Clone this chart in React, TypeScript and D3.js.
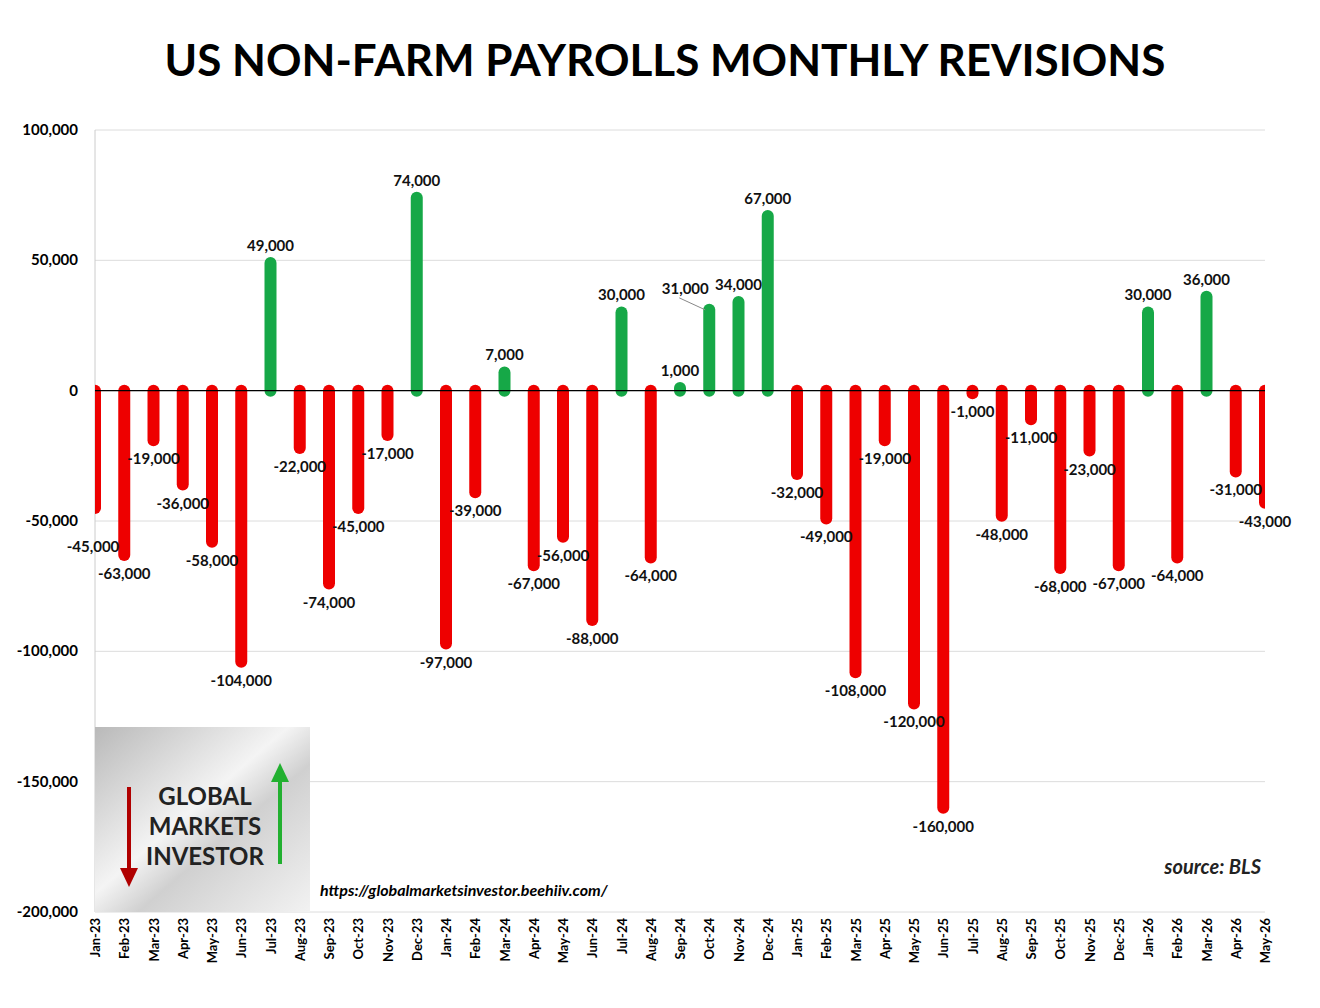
import * as d3 from "d3";

const MONTHS = ["Jan","Feb","Mar","Apr","May","Jun","Jul","Aug","Sep","Oct","Nov","Dec"];
const CATEGORIES: string[] = [];
for (const yr of ["23", "24", "25"]) for (const m of MONTHS) CATEGORIES.push(`${m}-${yr}`);
for (const m of MONTHS.slice(0, 5)) CATEGORIES.push(`${m}-26`);

const REVISIONS = [
  -45000, -63000, -19000, -36000, -58000, -104000, 49000, -22000, -74000, -45000, -17000, 74000,
  -97000, -39000, 7000, -67000, -56000, -88000, 30000, -64000, 1000, 31000, 34000, 67000,
  -32000, -49000, -108000, -19000, -120000, -160000, -1000, -48000, -11000, -68000, -23000, -67000,
  30000, -64000, 36000, -31000, -43000,
];

const Y_TICKS = [100000, 50000, 0, -50000, -100000, -150000, -200000];

const W = 1320, H = 1008;
const L = 95, R = 1265, T = 130, B = 912;
const FONT = "Lato, 'Open Sans', sans-serif";
const RED = "#ee0000", GREEN = "#16a847";

const fmt = (v: number) => d3.format(",")(v).replace("\u2212", "-");

export default function App() {
  const x = d3.scalePoint<string>().domain(CATEGORIES).range([L, R]);
  const y = d3.scaleLinear().domain([-200000, 100000]).range([B, T]);
  const bw = 12;

  return (
    <svg width={W} height={H} style={{ position: "absolute", left: 0, top: 0, background: "#fff" }} fontFamily={FONT}>
      <defs>
        <clipPath id="plot"><rect x={L} y={0} width={R - L} height={H} /></clipPath>
        <linearGradient id="logo" x1="0" y1="0" x2="1" y2="1">
          <stop offset="0" stopColor="#b9b9b9" />
          <stop offset="0.45" stopColor="#f4f4f4" />
          <stop offset="0.6" stopColor="#d0d0d0" />
          <stop offset="1" stopColor="#f2f2f2" />
        </linearGradient>
      </defs>
      <rect width={W} height={H} fill="#fff" />
      <text x={W / 2 + 5} y={76} textAnchor="middle" fontSize={44} fontWeight={700} fill="#000">
        US NON-FARM PAYROLLS MONTHLY REVISIONS
      </text>

      {Y_TICKS.map((t) => (
        <g key={t}>
          <line x1={L} x2={R} y1={y(t)} y2={y(t)} stroke="#dcdcdc" />
          <text x={78} y={y(t) + 5} textAnchor="end" fontSize={15} fontWeight={700}>{fmt(t)}</text>
        </g>
      ))}
      <line x1={L} x2={L} y1={T} y2={B} stroke="#ccc" />

      {/* logo */}
      <rect x={95} y={727} width={215} height={185} fill="url(#logo)" />
      <g fontSize={24} fontWeight={700} fill="#222" textAnchor="middle">
        <text x={205} y={805}>GLOBAL</text>
        <text x={205} y={835}>MARKETS</text>
        <text x={205} y={865}>INVESTOR</text>
      </g>
      <line x1={129} x2={129} y1={787} y2={872} stroke="#b00000" strokeWidth={4} />
      <path d="M120,868 L138,868 L129,887 Z" fill="#b00000" />
      <line x1={280} x2={280} y1={780} y2={864} stroke="#22b030" strokeWidth={4} />
      <path d="M271,782 L289,782 L280,763 Z" fill="#22b030" />
      <text x={320} y={896} fontSize={16} fontWeight={700} fontStyle="italic">https://globalmarketsinvestor.beehiiv.com/</text>
      <text x={1261} y={874} textAnchor="end" fontSize={20} fontWeight={700} fontStyle="italic" fill="#222">source: BLS</text>

      <g clipPath="url(#plot)">
        {REVISIONS.map((v, i) => {
          const cx = x(CATEGORIES[i])!;
          const y0 = y(0), y1 = y(v);
          const top = Math.min(y0, y1) - bw / 2, h = Math.abs(y1 - y0) + bw;
          return (
            <rect key={i} x={cx - bw / 2} y={top} width={bw} height={h} rx={bw / 2}
              fill={v >= 0 ? GREEN : RED} />
          );
        })}
      </g>
      <line x1={L} x2={R} y1={y(0)} y2={y(0)} stroke="#000" strokeWidth={1.2} />

      {REVISIONS.map((v, i) => {
        const cx = x(CATEGORIES[i])!;
        let lx = cx;
        let ly = v >= 0 ? y(v) - 12 : y(v) + 24;
        if (i === 0) { lx = cx - 2; ly = y(v) + 44; }
        if (i === 21) { lx = cx - 24; ly = y(v) - 16; }
        return (
          <g key={i}>
            {i === 21 && <line x1={cx - 30} y1={y(v) - 12} x2={cx - 4} y2={y(v)} stroke="#888" />}
            <text x={lx} y={ly} textAnchor="middle" fontSize={15} fontWeight={700} fill="#111">
              {fmt(v)}
            </text>
          </g>
        );
      })}

      {CATEGORIES.map((c) => (
        <text key={c} transform={`translate(${x(c)! + 5},918) rotate(-90)`} textAnchor="end"
          fontSize={13} fontWeight={700}>{c}</text>
      ))}
    </svg>
  );
}
